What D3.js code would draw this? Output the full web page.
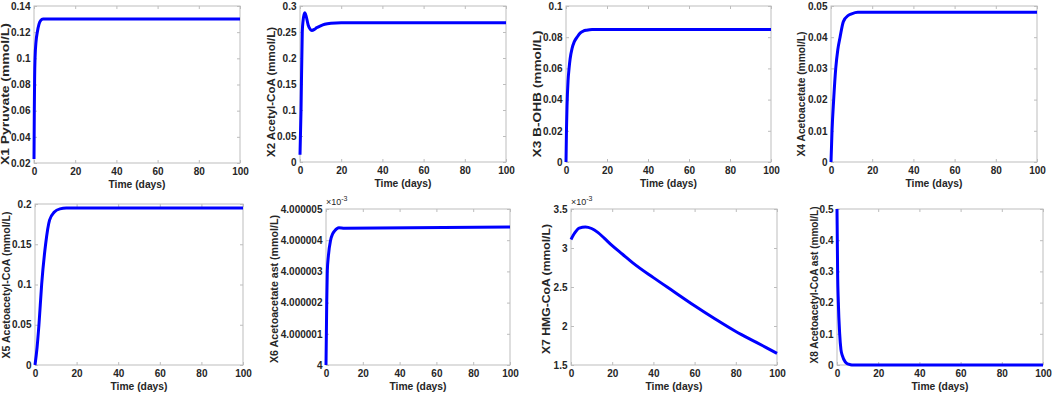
<!DOCTYPE html>
<html lang="en">
<head>
    <meta charset="UTF-8">
    <title>Ketone model states</title>
    <script src="https://cdn.jsdelivr.net/npm/d3@7/dist/d3.min.js"></script>
    <style>
        body { margin: 0; background: #fff; }
        text { font-family: "Liberation Sans", Arial, sans-serif; }
    </style>
</head>
<body>
    <div class="chart"></div>
<script>
    // x axis is the same everywhere
    const dayTicks = [0, 20, 40, 60, 80, 100]

    const x1Days = [0, 0.15, 0.3, 0.5, 1, 1.6, 2.4, 3.2, 4.4, 100]
    const x1Vals = [0.023, 0.06, 0.085, 0.1, 0.113, 0.12, 0.126, 0.1288, 0.13, 0.13]
    const x1Ticks = [0.02, 0.04, 0.06, 0.08, 0.1, 0.12, 0.14]

    const x2Days = [0, 0.5, 1.1, 1.5, 2, 2.3, 3, 4, 5, 5.7, 7, 8, 10, 12, 15, 20, 100]
    const x2Vals = [0.014, 0.1, 0.25, 0.272, 0.284, 0.287, 0.28, 0.263, 0.255, 0.253, 0.255, 0.258, 0.262, 0.265, 0.267, 0.268, 0.268]
    const x2Ticks = [0, 0.05, 0.1, 0.15, 0.2, 0.25, 0.3]

    const x3Days = [0, 0.25, 0.5, 1, 1.5, 2, 3, 4, 5.4, 7, 8.6, 10, 12.7, 100]
    const x3Vals = [0, 0.022, 0.036, 0.052, 0.06, 0.066, 0.073, 0.077, 0.08, 0.0828, 0.084, 0.0845, 0.085, 0.085]
    const x3Ticks = [0, 0.02, 0.04, 0.06, 0.08, 0.1]

    const x4Days = [0, 0.5, 1.3, 2.3, 3.3, 4.4, 6, 8.4, 10, 13, 100]
    const x4Vals = [0, 0.01, 0.02, 0.03, 0.036, 0.04, 0.045, 0.047, 0.0475, 0.048, 0.048]
    const x4Ticks = [0, 0.01, 0.02, 0.03, 0.04, 0.05]

    const x5Days = [0, 1, 1.9, 3.2, 5.1, 7, 9.3, 12, 15, 100]
    const x5Vals = [0, 0.022, 0.05, 0.1, 0.15, 0.18, 0.19, 0.194, 0.195, 0.195]
    const x5Ticks = [0, 0.05, 0.1, 0.15, 0.2]

    // X6 and X7 are in units of 1e-3 mmol/L
    const x6Days = [0, 0.2, 0.4, 0.7, 1.3, 2.5, 3.6, 4.7, 7, 10, 100]
    const x6Vals = [4, 4.000001, 4.000002, 4.000003, 4.0000035, 4.000004, 4.0000042, 4.0000043, 4.0000044, 4.00000438, 4.00000442]
    const x6Ticks = [4, 4.000001, 4.000002, 4.000003, 4.000004, 4.000005]

    const x7Days = [0, 2, 4, 7, 10, 13, 16, 20, 25, 30, 40, 50, 60, 70, 80, 90, 100]
    const x7Vals = [3.11, 3.2, 3.255, 3.27, 3.25, 3.2, 3.13, 3.03, 2.92, 2.81, 2.62, 2.44, 2.26, 2.09, 1.93, 1.79, 1.65]
    const x7Ticks = [1.5, 2, 2.5, 3, 3.5]

    const x8Days = [0, 0.15, 0.3, 0.65, 1.3, 1.9, 2.6, 4, 5, 6.5, 8, 100]
    const x8Vals = [0.5, 0.4, 0.3, 0.2, 0.1, 0.05, 0.03, 0.01, 0.004, 0.001, 0, 0]
    const x8Ticks = [0, 0.1, 0.2, 0.3, 0.4, 0.5]

    const yLabels = [
        'X1 Pyruvate (mmol/L)', 'X2 Acetyl-CoA (mmol/L)', 'X3 B-OHB (mmol/L)', 'X4 Acetoacetate (mmol/L)',
        'X5 Acetoacetyl-CoA (mmol/L)', 'X6 Acetoacetate ast (mmol/L)', 'X7 HMG-CoA (mmol/L)', 'X8 Acetoacetyl-CoA ast (mmol/L)'
    ]
    const xLabel = 'Time (days)'
    const scaled = [false, false, false, false, false, true, true, false]

    const series = [
        [x1Days, x1Vals, x1Ticks], [x2Days, x2Vals, x2Ticks], [x3Days, x3Vals, x3Ticks], [x4Days, x4Vals, x4Ticks],
        [x5Days, x5Vals, x5Ticks], [x6Days, x6Vals, x6Ticks], [x7Days, x7Vals, x7Ticks], [x8Days, x8Vals, x8Ticks]
    ]

    // axes boxes: left, top, right, bottom
    const boxes = [
        [34, 6, 240, 163], [300, 6, 506, 162], [566, 6, 771, 162], [831, 6, 1037, 162],
        [35, 204, 243, 365], [326, 209, 510, 365], [571, 209, 777, 365], [837, 209, 1043, 365]
    ]
    // y label: centre x, centre y, stretched length (the panels were resized unevenly)
    const yLabelPos = [
        [6, 94, 142], [272, 92, 130], [538, 94, 127], [802, 94, 125],
        [7, 285, 147], [275, 289, 148], [547, 289, 130], [815, 285, 157]
    ]

    const width = 1052
    const height = 394
    const ink = '#262626'
    const frame = '#bdbdbd'
    const fontSize = '10px'

    const svg = d3.select('.chart')
        .append('svg')
        .attr('width', width)
        .attr('height', height)

    const tickFmt = v => String(+v.toFixed(7))

    series.forEach(([days, vals, ticks], i) => {
        const [l, t, r, b] = boxes[i]
        const x = d3.scaleLinear().domain([0, 100]).range([l, r])
        const y = d3.scaleLinear().domain([ticks[0], ticks[ticks.length - 1]]).range([b, t])
        const g = svg.append('g')

        g.append('rect')
            .attr('x', l).attr('y', t)
            .attr('width', r - l).attr('height', b - t)
            .attr('fill', 'none')
            .attr('stroke', frame)
            .attr('stroke-width', 1)

        const styleAxis = sel => {
            sel.select('.domain').remove()
            sel.selectAll('line').attr('stroke', frame)
            sel.selectAll('text')
                .attr('fill', ink)
                .attr('font-size', fontSize)
                .attr('font-weight', 'bold')
        }

        g.append('g')
            .attr('transform', `translate(0,${b})`)
            .call(d3.axisBottom(x).tickValues(dayTicks).tickSizeInner(-3).tickSizeOuter(0).tickPadding(4.5))
            .call(styleAxis)
        g.append('g')
            .attr('transform', `translate(0,${t})`)
            .call(d3.axisTop(x).tickValues(dayTicks).tickSizeInner(-3).tickSizeOuter(0).tickFormat(''))
            .call(styleAxis)
        g.append('g')
            .attr('transform', `translate(${l},0)`)
            .call(d3.axisLeft(y).tickValues(ticks).tickSizeInner(-3).tickSizeOuter(0).tickPadding(3.5).tickFormat(tickFmt))
            .call(styleAxis)
        g.append('g')
            .attr('transform', `translate(${r},0)`)
            .call(d3.axisRight(y).tickValues(ticks).tickSizeInner(-3).tickSizeOuter(0).tickFormat(''))
            .call(styleAxis)

        const line = d3.line()
            .x((d, k) => x(days[k]))
            .y(d => y(d))
            .curve(d3.curveMonotoneX)
        g.append('path')
            .attr('d', line(vals))
            .attr('fill', 'none')
            .attr('stroke', '#0000ff')
            .attr('stroke-width', 3)
            .attr('stroke-linejoin', 'round')

        const [lx, ly, len] = yLabelPos[i]
        g.append('text')
            .attr('transform', `translate(${lx + 2.5},${ly}) rotate(-90)`)
            .attr('text-anchor', 'middle')
            .attr('fill', ink)
            .attr('font-size', fontSize)
            .attr('font-weight', 'bold')
            .attr('textLength', len)
            .attr('lengthAdjust', 'spacingAndGlyphs')
            .text(yLabels[i])

        g.append('text')
            .attr('x', (l + r) / 2)
            .attr('y', b + 25)
            .attr('text-anchor', 'middle')
            .attr('fill', ink)
            .attr('font-size', '10.3px')
            .attr('font-weight', 'bold')
            .text(xLabel)

        if (scaled[i]) {
            const e = g.append('text')
                .attr('x', l)
                .attr('y', t - 4)
                .attr('fill', ink)
                .attr('font-size', '9px')
                .text('×10')
            e.append('tspan')
                .attr('dy', -4)
                .attr('font-size', '7px')
                .text('-3')
        }
    })
</script>
</body>
</html>
